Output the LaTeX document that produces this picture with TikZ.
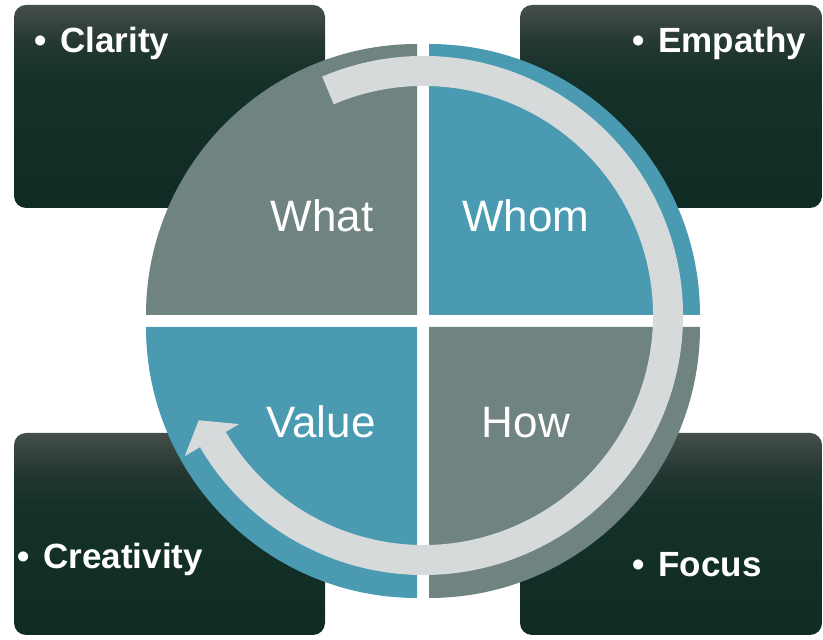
\documentclass[tikz,border=0pt]{standalone}
\usepackage{fontspec}
\setmainfont{Liberation Sans}
\usetikzlibrary{positioning}
\definecolor{quadgray}{HTML}{6F8380}
\definecolor{quadteal}{HTML}{4A9BB2}
\definecolor{ringgray}{HTML}{D7DADA}
\definecolor{cardtop}{HTML}{454F4C}
\definecolor{cardfade}{HTML}{263833}
\definecolor{cardmid}{HTML}{15322A}
\definecolor{cardbot}{HTML}{0F2B23}
\pgfdeclareverticalshading{cardshade}{100bp}{color(0bp)=(cardbot); color(25bp)=(cardbot);
    color(58bp)=(cardmid); color(66bp)=(cardfade); color(75bp)=(cardtop); color(100bp)=(cardtop)}
\newcommand\CardBox[5]{%
    \shade[shading=cardshade, rounded corners=12pt] (#2,#3) rectangle (#4,#5);
    \coordinate (#1) at (#2,#5);
}
\newcommand\Quadrant[4]{%
    \fill[#1] (#2,#3) -- ++(#4:271) arc[start angle=#4, end angle=#4+90, radius=271] -- cycle;
}
\tikzset{
    quadlabel/.style={text=white, font=\fontsize{44}{50}\selectfont, anchor=base, inner sep=0pt},
    cardlabel/.style={text=white, font=\bfseries\fontsize{35}{40}\selectfont, anchor=base west, inner sep=0pt}
}

\begin{document}
\begin{tikzpicture}[x=1pt, y=1pt]
    \useasboundingbox (0,0) rectangle (823,640);
    % corner cards
    \CardBox{ClarityBox}{14}{432}{325}{635}
    \CardBox{EmpathyBox}{520}{432}{822}{635}
    \CardBox{CreativityBox}{14}{5}{325}{207}
    \CardBox{FocusBox}{520}{5}{822}{207}
    % the four quarters
    \Quadrant{quadgray}{417}{325}{90}
    \Quadrant{quadteal}{429}{325}{0}
    \Quadrant{quadteal}{417}{313}{180}
    \Quadrant{quadgray}{429}{313}{270}
    % circular arrow
    \coordinate (RingCentre) at (423.5,324.5);
    \draw[ringgray, line width=30pt] ([shift={(113:244.5)}]RingCentre)
        arc[start angle=113, end angle=-149.5, radius=244.5];
    \fill[ringgray] ([shift={(210.5:214)}]RingCentre) -- ([shift={(205:248)}]RingCentre)
        -- ([shift={(210.5:277)}]RingCentre) -- cycle;
    % labels
    \node[quadlabel] (what) at (322,408) {What};
    \node[quadlabel] (whom) at (526,408) {Whom};
    \node[quadlabel] (value) at (321,202) {Value};
    \node[quadlabel] (how) at (526,202) {How};
    \node[cardlabel] (clarity) at (34,587) {•\hspace{0.4em}Clarity};
    \node[cardlabel] (empathy) at (632,587) {•\hspace{0.4em}Empathy};
    \node[cardlabel] (creativity) at (17,71) {•\hspace{0.4em}Creativity};
    \node[cardlabel] (focus) at (632,63) {•\hspace{0.4em}Focus};
\end{tikzpicture}
\end{document}
